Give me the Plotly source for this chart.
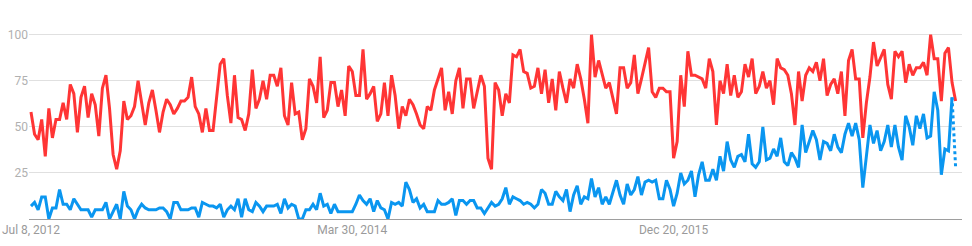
import pandas as pd
import plotly.graph_objects as go

start_date = "2012-07-08"
n_weeks = 260
dates = pd.date_range(start=start_date, periods=n_weeks, freq="7D")

red_values = [
    58, 46, 43, 54, 34, 60, 44, 54, 54, 63,
    54, 73, 68, 47, 66, 72, 55, 68, 62, 45,
    71, 78, 60, 35, 27, 37, 64, 54, 56, 61,
    75, 64, 51, 63, 70, 59, 47, 58, 65, 62,
    57, 60, 64, 64, 66, 77, 61, 57, 47, 60,
    48, 48, 67, 84, 87, 67, 52, 78, 55, 54,
    48, 57, 81, 60, 65, 75, 65, 78, 78, 72,
    82, 56, 51, 74, 57, 58, 43, 49, 76, 72,
    63, 88, 55, 59, 74, 74, 61, 70, 56, 83,
    80, 67, 67, 92, 65, 68, 72, 53, 57, 74,
    56, 78, 67, 49, 61, 56, 65, 62, 57, 51,
    49, 61, 59, 70, 76, 82, 59, 69, 57, 75,
    82, 60, 76, 76, 60, 70, 78, 72, 33, 27,
    74, 70, 56, 68, 63, 89, 88, 92, 80, 79,
    71, 72, 82, 68, 81, 63, 76, 59, 80, 71,
    63, 76, 71, 84, 76, 65, 52, 100, 77, 86,
    78, 71, 74, 65, 57, 82, 82, 71, 74, 89,
    68, 76, 84, 93, 69, 66, 71, 71, 69, 69,
    33, 42, 78, 61, 91, 78, 78, 77, 76, 71,
    87, 80, 51, 75, 68, 84, 67, 78, 66, 69,
    84, 77, 87, 68, 72, 80, 71, 75, 62, 87,
    82, 81, 78, 68, 51, 80, 64, 78, 82, 80,
    85, 75, 87, 67, 73, 76, 68, 80, 56, 86,
    92, 76, 76, 44, 63, 77, 96, 83, 88, 92,
    73, 65, 91, 88, 91, 74, 84, 78, 82, 82,
    85, 78, 100, 87, 87, 64, 90, 93, 74, 64,
]

blue_values = [
    7, 9, 5, 12, 12, 0, 6, 6, 16, 8,
    8, 5, 11, 8, 5, 5, 5, 1, 5, 5,
    5, 9, 0, 4, 8, 0, 15, 7, 5, 0,
    5, 8, 6, 5, 5, 5, 6, 6, 4, 0,
    9, 9, 5, 5, 5, 6, 6, 1, 9, 8,
    7, 7, 6, 8, 1, 5, 7, 5, 11, 1,
    11, 5, 4, 9, 7, 4, 7, 7, 7, 8,
    3, 11, 6, 8, 7, 0, 0, 5, 5, 8,
    5, 14, 7, 8, 3, 8, 4, 4, 4, 4,
    4, 8, 13, 10, 8, 11, 4, 10, 6, 5,
    0, 9, 8, 9, 7, 20, 16, 9, 11, 6,
    8, 4, 4, 4, 10, 8, 8, 9, 11, 2,
    10, 10, 8, 10, 10, 6, 6, 3, 6, 9,
    7, 8, 11, 17, 8, 12, 11, 10, 8, 9,
    8, 6, 8, 16, 14, 8, 8, 15, 12, 10,
    16, 4, 13, 18, 8, 12, 11, 22, 12, 17,
    8, 12, 8, 14, 21, 13, 8, 19, 13, 16,
    23, 13, 20, 21, 20, 21, 11, 11, 21, 16,
    7, 14, 25, 19, 21, 26, 12, 24, 31, 21,
    21, 27, 21, 34, 26, 42, 32, 28, 34, 35,
    31, 46, 30, 28, 31, 50, 32, 33, 38, 34,
    44, 31, 29, 36, 33, 28, 51, 36, 42, 48,
    43, 32, 42, 41, 37, 46, 39, 36, 46, 52,
    45, 52, 43, 17, 34, 51, 41, 48, 37, 42,
    51, 39, 51, 39, 32, 56, 50, 40, 56, 49,
    57, 44, 45, 69, 59, 24, 38, 37, 66, 28,
]

x_tick_dates = ["2012-07-08", "2014-03-30", "2015-12-20"]
x_tick_labels = ["Jul 8, 2012", "Mar 30, 2014", "Dec 20, 2015"]
y_tick_values = [25, 50, 75, 100]
y_tick_labels = ["25", "50", "75", "100"]

RED = "#ff3535"
BLUE = "#0a96f0"

fig = go.Figure()
fig.add_trace(go.Scatter(x=dates, y=red_values, mode="lines",
                         line=dict(color=RED, width=3), hoverinfo="skip"))
fig.add_trace(go.Scatter(x=dates[:-1], y=blue_values[:-1], mode="lines",
                         line=dict(color=BLUE, width=3), hoverinfo="skip"))
fig.add_trace(go.Scatter(x=dates[-2:], y=blue_values[-2:], mode="lines",
                         line=dict(color=BLUE, width=3, dash="dot"), hoverinfo="skip"))

t0 = pd.Timestamp(start_date)
x_range = [t0 - pd.Timedelta(days=3.9), t0 + pd.Timedelta(days=1825.5)]

fig.update_layout(
    width=972, height=246,
    margin=dict(l=29, r=10, t=31, b=27),
    paper_bgcolor="white", plot_bgcolor="white",
    showlegend=False, hovermode=False,
    font=dict(family="Roboto, Arial, sans-serif", size=12, color="#9e9e9e"),
    xaxis=dict(
        range=x_range, showgrid=False, zeroline=False, automargin=False,
        showline=True, linecolor="#9e9e9e", linewidth=1,
        tickmode="array", tickvals=pd.to_datetime(x_tick_dates), ticktext=x_tick_labels,
        ticks="", tickfont=dict(size=12, color="#9a9a9a"),
    ),
    yaxis=dict(
        range=[0, 102], showgrid=True, gridcolor="#e0e0e0", gridwidth=1,
        zeroline=False, showline=False, automargin=False,
        tickmode="array", tickvals=y_tick_values, ticktext=y_tick_labels,
        ticks="", tickfont=dict(size=12, color="#b0b0b0"),
    ),
)

fig.write_html("out.html", config={"displayModeBar": False})
